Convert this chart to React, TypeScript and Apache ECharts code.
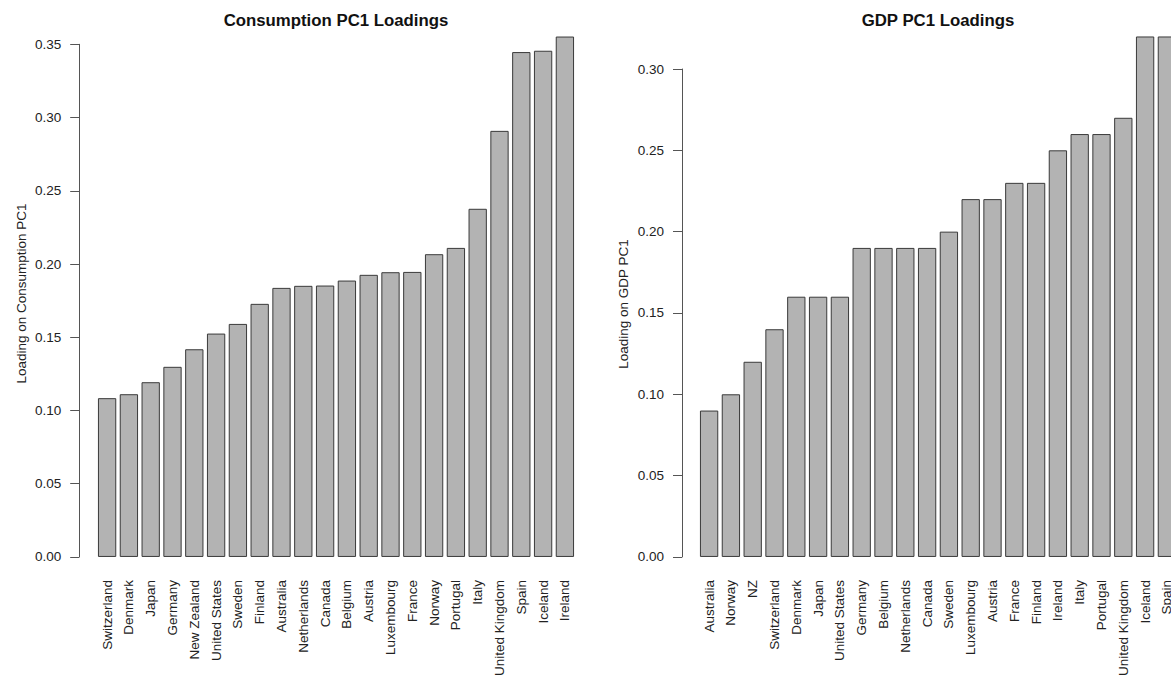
import React, { useEffect, useRef } from "react";
import * as echarts from "echarts";

const consumptionCountries = [
  "Switzerland", "Denmark", "Japan", "Germany", "New Zealand", "United States",
  "Sweden", "Finland", "Australia", "Netherlands", "Canada", "Belgium", "Austria",
  "Luxembourg", "France", "Norway", "Portugal", "Italy", "United Kingdom", "Spain",
  "Iceland", "Ireland",
];
const consumptionLoadings = [
  0.1084, 0.1111, 0.1193, 0.1298, 0.1418, 0.1525, 0.1591, 0.1728, 0.1837, 0.1851,
  0.1853, 0.1887, 0.1926, 0.1944, 0.1946, 0.2067, 0.211, 0.2377, 0.2909, 0.3447,
  0.3456, 0.3553,
];

const gdpCountries = [
  "Australia", "Norway", "NZ", "Switzerland", "Denmark", "Japan", "United States",
  "Germany", "Belgium", "Netherlands", "Canada", "Sweden", "Luxembourg", "Austria",
  "France", "Finland", "Ireland", "Italy", "Portugal", "United Kingdom", "Iceland",
  "Spain",
];
const gdpLoadings = [
  0.09, 0.1, 0.12, 0.14, 0.16, 0.16, 0.16, 0.19, 0.19, 0.19, 0.19, 0.2, 0.22, 0.22,
  0.23, 0.23, 0.25, 0.26, 0.26, 0.27, 0.32, 0.32,
];

const FONT = '"Liberation Sans", Arial, Helvetica, sans-serif';

export default function App() {
  const ref = useRef<HTMLDivElement>(null);
  useEffect(() => {
    if (!ref.current) return;
    const chart = echarts.init(ref.current, undefined, { renderer: "svg" });

    const yAxisCommon = {
      type: "value" as const,
      min: 0,
      interval: 0.05,
      splitLine: { show: false },
      axisLine: { show: true, lineStyle: { color: "#555", width: 1 } },
      axisTick: { show: true, length: 9, lineStyle: { color: "#555", width: 1 } },
      axisLabel: {
        margin: 18,
        fontSize: 13.5,
        fontFamily: FONT,
        color: "#222",
        formatter: (v: number) => v.toFixed(2),
      },
    };
    const xAxisCommon = {
      type: "category" as const,
      axisLine: { show: false },
      axisTick: { show: false },
      axisLabel: {
        rotate: 90,
        interval: 0,
        margin: 23,
        fontSize: 13.5,
        fontFamily: FONT,
        color: "#222",
      },
    };
    const barStyle = {
      color: "#b3b3b3",
      borderColor: "#3a3a3a",
      borderWidth: 1,
    };

    chart.setOption({
      animation: false,
      backgroundColor: "#fff",
      grid: [
        { left: 96.2, top: 44.3, width: 479.6, height: 512.7, containLabel: false },
        { left: 698.2, top: 69, width: 479.6, height: 488, containLabel: false },
      ],
      xAxis: [
        { ...xAxisCommon, gridIndex: 0, data: consumptionCountries },
        { ...xAxisCommon, gridIndex: 1, data: gdpCountries },
      ],
      yAxis: [
        { ...yAxisCommon, gridIndex: 0, max: 0.35, offset: 17 },
        { ...yAxisCommon, gridIndex: 1, max: 0.3, offset: 16.2 },
      ],
      series: [
        {
          type: "bar",
          xAxisIndex: 0,
          yAxisIndex: 0,
          data: consumptionLoadings,
          barCategoryGap: "16%",
          clip: false,
          itemStyle: barStyle,
        },
        {
          type: "bar",
          xAxisIndex: 1,
          yAxisIndex: 1,
          data: gdpLoadings,
          barCategoryGap: "16%",
          clip: false,
          itemStyle: barStyle,
        },
      ],
      graphic: [
        {
          type: "text",
          x: 336,
          y: 20,
          style: {
            text: "Consumption PC1 Loadings",
            font: `bold 16.8px ${FONT}`,
            fill: "#111",
            align: "center",
            verticalAlign: "middle",
          },
        },
        {
          type: "text",
          x: 938,
          y: 20,
          style: {
            text: "GDP PC1 Loadings",
            font: `bold 16.8px ${FONT}`,
            fill: "#111",
            align: "center",
            verticalAlign: "middle",
          },
        },
        {
          type: "text",
          x: 21.7,
          y: 293.5,
          rotation: Math.PI / 2,
          style: {
            text: "Loading on Consumption PC1",
            font: `13.5px ${FONT}`,
            fill: "#222",
            align: "center",
            verticalAlign: "middle",
          },
        },
        {
          type: "text",
          x: 623.3,
          y: 304,
          rotation: Math.PI / 2,
          style: {
            text: "Loading on GDP PC1",
            font: `13.5px ${FONT}`,
            fill: "#222",
            align: "center",
            verticalAlign: "middle",
          },
        },
      ],
    });

    return () => chart.dispose();
  }, []);

  return (
    <div
      style={{
        position: "absolute",
        left: 0,
        top: 0,
        width: 1171,
        height: 679,
        overflow: "hidden",
      }}
    >
      <div ref={ref} style={{ width: 1200, height: 679 }} />
    </div>
  );
}
